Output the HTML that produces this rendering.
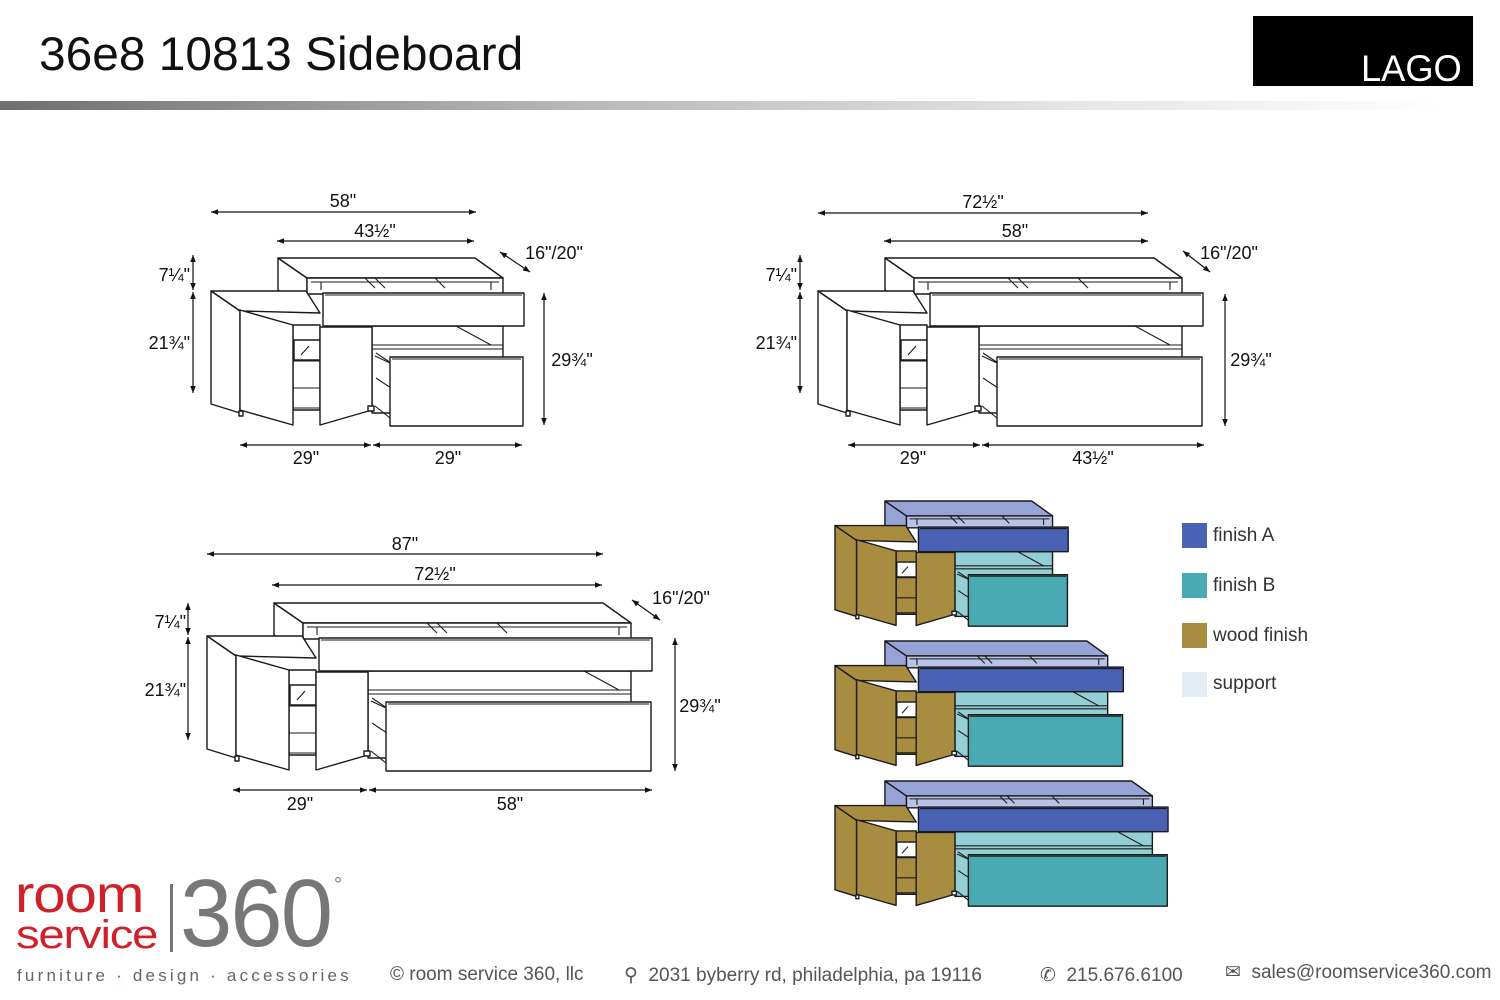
<!DOCTYPE html>
<html><head><meta charset="utf-8">
<style>
html,body{margin:0;padding:0;background:#fff;}
body{width:1500px;height:1000px;position:relative;overflow:hidden;font-family:"Liberation Sans",sans-serif;}
.t{position:absolute;white-space:nowrap;}
</style></head>
<body>
<div class="t" style="left:39px;top:26px;font-size:47px;color:#111;transform:scaleX(1.018);transform-origin:0 0;">36e8 10813 Sideboard</div>
<div style="position:absolute;left:0;top:101px;width:1440px;height:9px;background:linear-gradient(to right,#6f6f6f,#b8b8b8 40%,#e6e6e6 75%,#fff);"></div>
<div style="position:absolute;left:1253px;top:16px;width:220px;height:70px;background:#000;"></div>
<div class="t" style="left:1361px;top:48px;font-size:37px;color:#fff;letter-spacing:0px;transform:scaleX(0.98);transform-origin:0 0;">LAGO</div>

<svg id="s" width="1500" height="1000" style="position:absolute;left:0;top:0" xmlns="http://www.w3.org/2000/svg">
<defs><marker id="ar" viewBox="0 0 10 10" refX="10" refY="5" markerWidth="9" markerHeight="7" orient="auto-start-reverse" markerUnits="userSpaceOnUse"><path d="M0,1 L10,5 L0,9 z" fill="#111"/></marker></defs>
<g id="d"></g>
</svg>

<!-- legend -->
<div style="position:absolute;left:1182px;top:523px;width:25px;height:25px;background:#4a62b4"></div>
<div class="t" style="left:1213px;top:525px;font-size:19px;color:#333">finish A</div>
<div style="position:absolute;left:1182px;top:573px;width:25px;height:25px;background:#4aaab4"></div>
<div class="t" style="left:1213px;top:575px;font-size:19px;color:#333">finish B</div>
<div style="position:absolute;left:1182px;top:623px;width:25px;height:25px;background:#a88c40"></div>
<div class="t" style="left:1213px;top:625px;font-size:19px;color:#333">wood finish</div>
<div style="position:absolute;left:1182px;top:672px;width:25px;height:25px;background:#e4ecf4"></div>
<div class="t" style="left:1213px;top:673px;font-size:19px;color:#333">support</div>

<!-- footer -->
<div class="t" style="left:15px;top:868px;font-size:52px;color:#d0212a;letter-spacing:-1px;line-height:54px;transform:scaleX(1.12);transform-origin:0 0;">room</div>
<div class="t" style="left:16px;top:913px;font-size:40px;color:#d0212a;letter-spacing:-1px;line-height:44px;transform:scaleX(1.18);transform-origin:0 0;">service</div>
<div style="position:absolute;left:170px;top:884px;width:3px;height:68px;background:#777"></div>
<div class="t" style="left:180px;top:864px;font-size:96px;color:#777;line-height:100px;letter-spacing:-2px;transform:scaleX(0.98);transform-origin:0 0;">360</div>
<div class="t" style="left:334px;top:874px;font-size:20px;color:#777;">°</div>
<div class="t" style="left:17px;top:966px;font-size:17px;color:#666;letter-spacing:3.2px;">furniture <span style="color:#d0212a">·</span> design <span style="color:#d0212a">·</span> accessories</div>
<div class="t" style="left:390px;top:964px;font-size:19px;color:#555;">© room service 360, llc</div>
<div class="t" style="left:624px;top:964px;font-size:19px;color:#555;">⚲ &nbsp;2031 byberry rd, philadelphia, pa 19116</div>
<div class="t" style="left:1040px;top:964px;font-size:19px;color:#555;">✆ &nbsp;215.676.6100</div>
<div class="t" style="left:1225px;top:961px;font-size:19px;color:#555;">✉ &nbsp;sales@roomservice360.com</div>

<script>
const NS="http://www.w3.org/2000/svg";
const root=document.getElementById('d');
function el(p,tag,a,txt){const e=document.createElementNS(NS,tag);for(const k in a)e.setAttribute(k,a[k]);if(txt)e.textContent=txt;p.appendChild(e);return e;}
function poly(g,pts,fill){el(g,'polygon',{points:pts.map(p=>p.join(',')).join(' '),fill:fill,stroke:'#1a1a1a','stroke-width':1.4,'vector-effect':'non-scaling-stroke','stroke-linejoin':'round'});}
function ln(g,x1,y1,x2,y2,w){el(g,'line',{x1,y1,x2,y2,stroke:'#1a1a1a','stroke-width':w||1.1,'vector-effect':'non-scaling-stroke'});}
function rect(g,x1,y1,x2,y2,f){poly(g,[[x1,y1],[x2,y1],[x2,y2],[x1,y2]],f);}
function board(x0,y0,s,W,c){
 const g=el(root,'g',{transform:`translate(${x0},${y0}) scale(${s})`});
 poly(g,[[67,0],[96,20],[96,50],[67,32]],c.uSide);
 poly(g,[[67,0],[264+W,0],[292+W,20],[96,20]],c.uSide);
 rect(g,96,20,292+W,36,c.uIn);
 ln(g,100,24,288+W,24);
 const m=(96+292+W)/2;
 ln(g,m-40,20,m-30,30);ln(g,m-30,20,m-20,30);ln(g,m+30,20,m+40,30);
 ln(g,110,24,110,32);ln(g,280+W,24,280+W,32);
 rect(g,161,68,292+W,155,c.lShell);
 ln(g,161,87,292+W,87);ln(g,161,91,292+W,91);
 ln(g,245+W,68,280+W,87);
 ln(g,165,95,180,105);ln(g,165,120,180,130);
 poly(g,[[0,33],[95,33],[109,55],[29,53]],c.wood);
 poly(g,[[0,33],[29,53],[29,155],[0,146]],c.wood);
 rect(g,82,67,109,152,c.inner);
 rect(g,83,82,109,102,c.glass);
 ln(g,90,97,98,88);
 ln(g,82,103,109,103);ln(g,82,130,109,130);ln(g,82,150,109,150);
 poly(g,[[29,52],[82,67],[82,167],[29,152]],c.wood);
 poly(g,[[109,69],[161,69],[161,152],[109,167]],c.wood);
 rect(g,28,153,32,158,'#fff');rect(g,157,148,163,153,'#fff');
 rect(g,112,35,313+W,68,c.uFront);
 ln(g,114,37,311+W,37);
 ln(g,164,98,179,105);ln(g,164,148,179,160);
 rect(g,179,99,312+W,168,c.lFront);
 ln(g,181,101,310+W,101);
}
const mono={uSide:'#fff',uIn:'#fff',lShell:'#fff',wood:'#fff',inner:'#fff',glass:'#fff',uFront:'#fff',lFront:'#fff'};
const col={uSide:'#95a3d6',uIn:'#b9c3e6',lShell:'#93cfd4',wood:'#a88c40',inner:'#a88c40',glass:'#fff',uFront:'#4a62b4',lFront:'#4aaab4'};
board(211,258,1,0,mono);
board(818,258,1,72,mono);
board(207,603,1,132,mono);
board(835,501,0.745,0,col);
board(835,641,0.745,74,col);
board(835,781,0.745,134,col);
const dg=el(root,'g',{});
function dim(x1,y1,x2,y2){el(dg,'line',{x1,y1,x2,y2,stroke:'#111','stroke-width':1.2,'marker-start':'url(#ar)','marker-end':'url(#ar)'});}
function tx(x,y,t,anc){el(dg,'text',{x,y,'font-size':18,'font-family':'Liberation Sans, sans-serif','text-anchor':anc||'middle',fill:'#111'},t);}
dim(211,212,476,212);tx(343,207,'58"');
dim(277,241,474,241);tx(375,237,'43½"');
dim(500,252,530,272);tx(554,259,'16"/20"');
dim(193,255,193,290);tx(190,281,'7¼"','end');
dim(193,292,193,393);tx(190,349,'21¾"','end');
dim(544,293,544,425);tx(572,366,'29¾"');
dim(240,445,371,445);tx(306,464,'29"');
dim(373,445,522,445);tx(448,464,'29"');
dim(818,213,1148,213);tx(983,208,'72½"');
dim(884,241,1148,241);tx(1015,237,'58"');
dim(1183,251,1210,272);tx(1229,259,'16"/20"');
dim(800,255,800,290);tx(797,281,'7¼"','end');
dim(800,292,800,393);tx(797,349,'21¾"','end');
dim(1225,294,1225,426);tx(1251,366,'29¾"');
dim(848,445,980,445);tx(913,464,'29"');
dim(982,445,1204,445);tx(1093,464,'43½"');
dim(207,554,603,554);tx(405,550,'87"');
dim(272,585,602,585);tx(435,580,'72½"');
dim(632,600,660,620);tx(681,604,'16"/20"');
dim(188,603,188,635);tx(186,628,'7¼"','end');
dim(188,637,188,740);tx(186,696,'21¾"','end');
dim(675,638,675,771);tx(700,712,'29¾"');
dim(233,790,367,790);tx(300,810,'29"');
dim(369,790,652,790);tx(510,810,'58"');
</script>
</body></html>
